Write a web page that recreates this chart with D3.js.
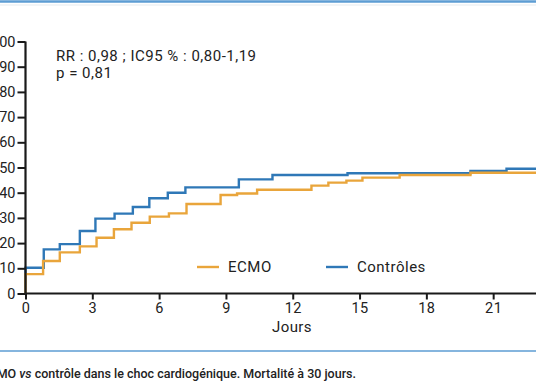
<!DOCTYPE html>
<html>
<head>
<meta charset="utf-8">
<script src="https://cdn.jsdelivr.net/npm/d3@7"></script>
<style>
  body { margin: 0; background: #fff; }
  svg { display: block; font-family: Roboto, "DejaVu Sans", sans-serif; }
</style>
</head>
<body>
<svg width="536" height="386"></svg>
<script>
// Kaplan-Meier style cumulative mortality (%), step-after
var ecmoDays   = [0, 0,   0.79, 1.54, 2.44, 3.19, 3.97, 4.76, 5.58, 6.44, 7.23, 8.76, 9.5,  10.4, 12.84, 13.6, 14.41, 15.13, 16.8, 19.98, 30];
var ecmoVals   = [0, 7.7, 12.9, 16.3, 18.7, 22.1, 25.5, 28.1, 30.5, 31.8, 35.5, 39.1, 39.7, 41.2, 42.8,  44.0, 44.8,  46.0,  47.0, 47.9,  47.9];
var ctrlDays   = [0, 0,    0.82, 1.54, 2.44, 3.14, 4.0,  4.82, 5.56, 6.39, 7.18, 9.58, 11.09, 14.46, 19.98, 21.6, 30];
var ctrlVals   = [0, 10.2, 17.5, 19.6, 24.8, 29.7, 31.7, 34.3, 37.8, 40.0, 42.1, 45.3, 47.0,  47.7,  48.6,  49.5, 49.5];
var xTicks = [0, 3, 6, 9, 12, 15, 18, 21];
var yTicks = [0, 10, 20, 30, 40, 50, 60, 70, 80, 90, 100];
var seriesNames = ['ECMO', 'Contrôles'];
var colors = ['#e9a53b', '#2f78b7'];

var svg = d3.select('svg');

var x = d3.scaleLinear().domain([0, 30]).range([25.5, 25.5 + 30 * 22.27]);
var y = d3.scaleLinear().domain([0, 100]).range([293.5, 41.5]);

// frame lines
svg.append('line').attr('x1', 0).attr('x2', 536).attr('y1', 1.5).attr('y2', 1.5)
  .attr('stroke', '#5d9dd3').attr('stroke-width', 2.5);
svg.append('line').attr('x1', 0).attr('x2', 536).attr('y1', 5).attr('y2', 5)
  .attr('stroke', '#eef2f4').attr('stroke-width', 1.5);
svg.append('line').attr('x1', 0).attr('x2', 536).attr('y1', 351).attr('y2', 351)
  .attr('stroke', '#5d9dd3').attr('stroke-width', 1.6);

// curves
var line = d3.line().x(function(d){ return x(d[0]); }).y(function(d){ return y(d[1]); })
  .curve(d3.curveStepAfter);

svg.append('path').datum(d3.zip(ctrlDays, ctrlVals))
  .attr('d', line).attr('fill', 'none').attr('stroke', colors[1]).attr('stroke-width', 2.4);
svg.append('path').datum(d3.zip(ecmoDays, ecmoVals))
  .attr('d', line).attr('fill', 'none').attr('stroke', colors[0]).attr('stroke-width', 2.4);

// axes
var yAxis = svg.append('g').attr('transform', 'translate(25.5,0)')
  .call(d3.axisLeft(y).tickValues(yTicks).tickSize(8).tickPadding(2).tickSizeOuter(0));
var xAxis = svg.append('g').attr('transform', 'translate(0,293.5)')
  .call(d3.axisBottom(x).tickValues(xTicks).tickSize(6).tickPadding(3).tickSizeOuter(0));

[yAxis, xAxis].forEach(function(a){
  a.select('.domain').attr('stroke', '#1a1a1a').attr('stroke-width', 2.2);
  a.selectAll('.tick line').attr('stroke', '#1a1a1a').attr('stroke-width', 2);
  a.selectAll('.tick text').attr('fill', '#222').style('font-size', '14.5px')
    .style('font-family', 'Roboto, sans-serif');
});
xAxis.selectAll('.tick text').style('letter-spacing', '0.4px');
xAxis.select('.domain').attr('d', 'M25.5,0H' + x(30));
yAxis.select('.domain').attr('d', 'M0,' + y(0) + 'V' + y(100));

svg.append('text').attr('x', 292).attr('y', 332).attr('text-anchor', 'middle')
  .attr('fill', '#222').style('font-size', '15px').style('letter-spacing', '0.4px').text('Jours');

// annotation
svg.append('text').attr('x', 56).attr('y', 61).attr('fill', '#222')
  .style('font-size', '15px').style('letter-spacing', '0.5px').text('RR : 0,98 ; IC95 % : 0,80-1,19');
svg.append('text').attr('x', 56).attr('y', 78).attr('fill', '#222')
  .style('font-size', '15px').style('letter-spacing', '0.5px').text('p = 0,81');

// legend
var legX = [197, 326];
seriesNames.forEach(function(n, i){
  svg.append('line').attr('x1', legX[i]).attr('x2', legX[i] + 22)
    .attr('y1', 267).attr('y2', 267).attr('stroke', colors[i]).attr('stroke-width', 2.4);
  svg.append('text').attr('x', legX[i] + 31).attr('y', 272).attr('fill', '#222')
    .style('font-size', '15px').style('letter-spacing', '0.5px').text(n);
});

// caption (cut at left edge as in the source)
var cap = svg.append('text').attr('x', 356).attr('y', 378).attr('text-anchor', 'end')
  .attr('fill', '#222').style('font-size', '12.5px').style('font-weight', 500);
cap.append('tspan').text('ECMO ');
cap.append('tspan').style('font-style', 'italic').text('vs');
cap.append('tspan').text(' contrôle dans le choc cardiogénique. Mortalité à 30 jours.');
</script>
</body>
</html>
